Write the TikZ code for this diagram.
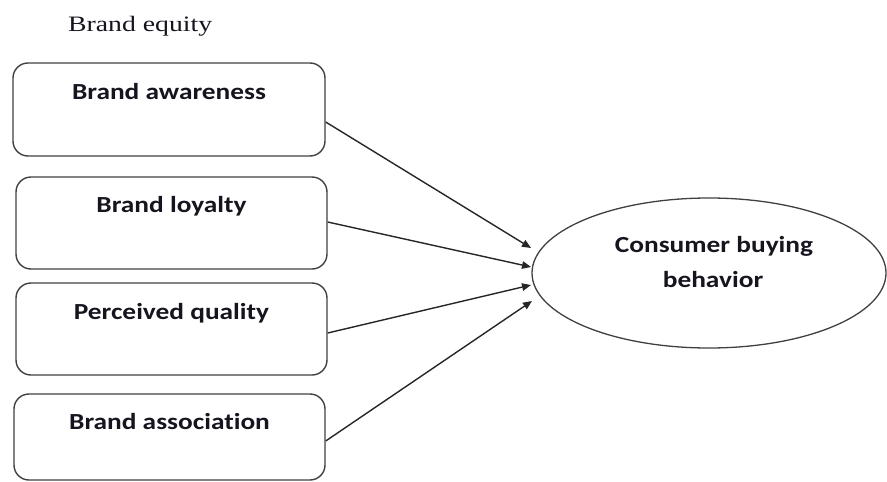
\documentclass[tikz,border=0pt]{standalone}
\usepackage{fontspec}
\setmainfont{Liberation Serif}
\newfontfamily\boxfont{Carlito}[FakeStretch=1.19, RawFeature=-liga]
\newfontfamily\titlefont{Liberation Serif}[FakeStretch=1.26]
\usetikzlibrary{arrows.meta,shapes.geometric}

\definecolor{edgegray}{HTML}{404040}
\definecolor{inkdark}{HTML}{15151F}

\tikzset{
  factorbox/.style={draw=edgegray, line width=1.4pt, rounded corners=15pt,
    rectangle, inner sep=0pt, minimum width=#1},
  factorlabel/.style={anchor=base, inner sep=0pt, text=inkdark,
    font=\boxfont\bfseries\fontsize{23}{35}\selectfont},
  outcome/.style={draw=edgegray, line width=1.3pt, ellipse, inner sep=0pt,
    minimum width=354pt, minimum height=150pt},
  influence/.style={draw=black!85, line width=1.4pt,
    -{Triangle[length=9pt,width=7.5pt]}},
}

\begin{document}
\begin{tikzpicture}[x=1pt, y=-1pt]
  \useasboundingbox (0,0) rectangle (887,482);

  % heading
  \node[anchor=base west, inner sep=0pt, text=inkdark,
        font=\titlefont\fontsize{22}{26}\selectfont] (heading) at (68,31) {Brand equity};

  % the four brand-equity dimensions
  \node[factorbox=312pt, minimum height=93pt] (b1) at (169,109.5) {};
  \node[factorbox=311pt, minimum height=92pt] (b2) at (171.5,223) {};
  \node[factorbox=311pt, minimum height=92pt] (b3) at (171.5,329) {};
  \node[factorbox=311pt, minimum height=86pt] (b4) at (169.5,437) {};

  \node[factorlabel] (t1) at (169,99)    {Brand awareness};
  \node[factorlabel] (t2) at (171.5,212) {Brand loyalty};
  \node[factorlabel] (t3) at (171.5,319) {Perceived quality};
  \node[factorlabel] (t4) at (169.5,429) {Brand association};

  % outcome
  \node[outcome] (cbb) at (709,273) {};
  \node[factorlabel] (c1) at (714,252) {Consumer buying};
  \node[factorlabel] (c2) at (713,287) {behavior};

  % arrow start and end points
  \coordinate (s1) at ([yshift=-12.5pt]b1.east);
  \coordinate (s2) at ([yshift=1pt]b2.east);
  \coordinate (s3) at ([yshift=-4pt]b3.east);
  \coordinate (s4) at ([yshift=-4pt]b4.east);
  \coordinate (e1) at (531,248);
  \coordinate (e2) at (531,267);
  \coordinate (e3) at (531,285);
  \coordinate (e4) at (532,301);

  \draw[influence] (s1) -- (e1);
  \draw[influence] (s2) -- (e2);
  \draw[influence] (s3) -- (e3);
  \draw[influence] (s4) -- (e4);
\end{tikzpicture}
\end{document}
